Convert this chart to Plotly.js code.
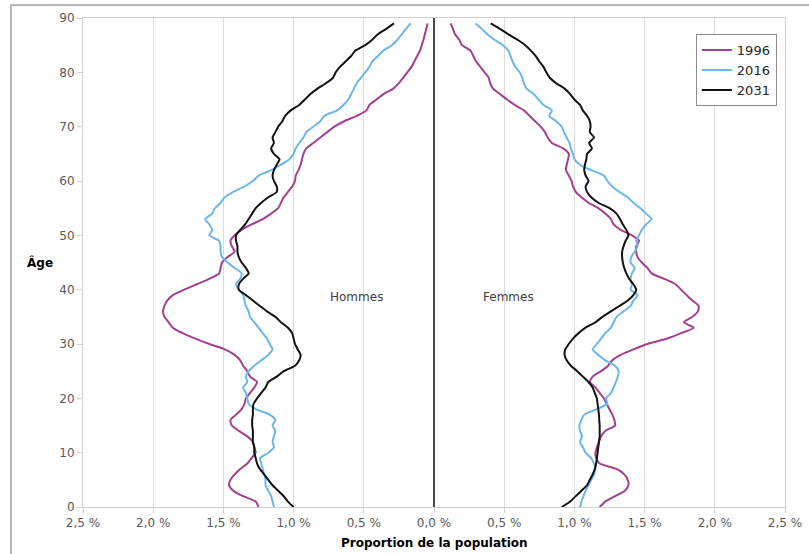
<!DOCTYPE html>
<html><head><meta charset="utf-8">
<script src="https://cdn.plot.ly/plotly-3.0.1.min.js"></script>
<style>html,body{margin:0;padding:0;background:#fff}#chart{width:809px;height:554px}</style>
</head><body><div id="chart"></div>
<script>
const ages = [0,1,2,3,4,5,6,7,8,9,10,11,12,13,14,15,16,17,18,19,20,21,22,23,24,25,26,27,28,29,30,31,32,33,34,35,36,37,38,39,40,41,42,43,44,45,46,47,48,49,50,51,52,53,54,55,56,57,58,59,60,61,62,63,64,65,66,67,68,69,70,71,72,73,74,75,76,77,78,79,80,81,82,83,84,85,86,87,88,89];

const years = ["1996", "2016", "2031"];

// Proportion de la population (%) — Hommes
const hommes1996 = [1.25,1.27,1.36,1.43,1.46,1.45,1.42,1.38,1.33,1.30,1.27,1.28,1.29,1.33,1.39,1.44,1.45,1.41,1.37,1.35,1.34,1.31,1.28,1.26,1.31,1.33,1.36,1.38,1.42,1.49,1.60,1.70,1.79,1.86,1.89,1.92,1.93,1.92,1.90,1.86,1.78,1.69,1.60,1.53,1.52,1.51,1.47,1.42,1.44,1.45,1.42,1.37,1.30,1.22,1.16,1.11,1.09,1.07,1.04,1.01,0.99,0.985,0.965,0.95,0.94,0.93,0.91,0.86,0.81,0.76,0.71,0.64,0.55,0.48,0.46,0.41,0.36,0.29,0.25,0.22,0.19,0.16,0.14,0.12,0.10,0.087,0.075,0.065,0.055,0.045];
const hommes2016 = [1.14,1.15,1.16,1.18,1.20,1.20,1.21,1.22,1.23,1.24,1.18,1.14,1.15,1.14,1.13,1.15,1.13,1.17,1.27,1.32,1.33,1.34,1.36,1.33,1.34,1.32,1.28,1.23,1.18,1.15,1.17,1.19,1.22,1.25,1.28,1.31,1.32,1.34,1.35,1.36,1.39,1.41,1.38,1.37,1.42,1.47,1.51,1.52,1.52,1.53,1.60,1.58,1.60,1.63,1.58,1.56,1.52,1.49,1.43,1.35,1.29,1.25,1.16,1.09,1.03,1.00,0.985,0.96,0.93,0.91,0.86,0.81,0.78,0.69,0.645,0.61,0.59,0.57,0.55,0.52,0.49,0.46,0.44,0.40,0.36,0.30,0.26,0.23,0.20,0.166];
const hommes2031 = [1.00,1.04,1.07,1.11,1.15,1.18,1.21,1.24,1.26,1.27,1.28,1.28,1.29,1.29,1.29,1.295,1.295,1.29,1.29,1.285,1.26,1.23,1.20,1.18,1.12,1.07,0.99,0.96,0.95,0.97,0.99,1.00,1.01,1.04,1.09,1.13,1.19,1.24,1.29,1.34,1.39,1.39,1.36,1.32,1.34,1.37,1.39,1.40,1.40,1.41,1.41,1.38,1.345,1.32,1.295,1.27,1.23,1.18,1.12,1.12,1.14,1.15,1.14,1.12,1.10,1.14,1.16,1.14,1.15,1.13,1.11,1.08,1.06,1.02,0.96,0.92,0.88,0.83,0.77,0.72,0.70,0.67,0.63,0.59,0.56,0.49,0.44,0.40,0.34,0.285];

// Proportion de la population (%) — Femmes
const femmes1996 = [1.18,1.22,1.29,1.36,1.385,1.38,1.355,1.30,1.18,1.155,1.15,1.16,1.175,1.19,1.22,1.29,1.285,1.27,1.25,1.23,1.21,1.18,1.15,1.11,1.13,1.19,1.24,1.27,1.33,1.42,1.52,1.66,1.76,1.85,1.78,1.84,1.88,1.885,1.84,1.80,1.76,1.72,1.64,1.55,1.52,1.48,1.45,1.44,1.44,1.46,1.41,1.33,1.28,1.26,1.22,1.17,1.10,1.05,1.01,0.99,0.98,0.96,0.94,0.945,0.955,0.96,0.92,0.84,0.81,0.79,0.76,0.72,0.68,0.64,0.575,0.52,0.47,0.42,0.40,0.39,0.36,0.33,0.30,0.28,0.26,0.20,0.18,0.15,0.135,0.119];
const femmes2016 = [1.04,1.05,1.065,1.08,1.10,1.12,1.14,1.15,1.14,1.12,1.08,1.06,1.04,1.055,1.04,1.035,1.05,1.07,1.16,1.235,1.225,1.26,1.28,1.295,1.31,1.315,1.29,1.22,1.17,1.13,1.16,1.19,1.22,1.26,1.28,1.30,1.35,1.40,1.42,1.45,1.40,1.41,1.40,1.41,1.43,1.40,1.405,1.43,1.45,1.44,1.46,1.48,1.51,1.55,1.51,1.47,1.42,1.38,1.32,1.27,1.235,1.21,1.12,1.04,1.00,0.99,0.975,0.965,0.945,0.925,0.91,0.87,0.82,0.84,0.78,0.745,0.71,0.66,0.64,0.63,0.61,0.58,0.56,0.545,0.53,0.49,0.43,0.38,0.34,0.297];
const femmes2031 = [0.91,0.97,1.01,1.05,1.09,1.11,1.13,1.145,1.155,1.16,1.165,1.17,1.175,1.18,1.18,1.18,1.177,1.175,1.17,1.165,1.16,1.145,1.13,1.10,1.06,1.02,0.975,0.945,0.93,0.935,0.96,0.99,1.03,1.08,1.15,1.20,1.26,1.32,1.38,1.42,1.44,1.42,1.39,1.37,1.355,1.345,1.34,1.34,1.35,1.365,1.385,1.37,1.345,1.325,1.30,1.25,1.17,1.12,1.09,1.08,1.10,1.08,1.07,1.075,1.085,1.09,1.125,1.105,1.14,1.11,1.115,1.11,1.09,1.06,1.04,1.00,0.97,0.93,0.87,0.825,0.80,0.78,0.75,0.725,0.69,0.65,0.595,0.53,0.47,0.404];

const xTickVals = [-2.5,-2,-1.5,-1,-0.5,0,0.5,1,1.5,2,2.5];
const xTickText = ["2,5 %","2,0 %","1,5 %","1,0 %","0,5 %","0,0 %","0,5 %","1,0 %","1,5 %","2,0 %","2,5 %"];
const yTickVals = [0,10,20,30,40,50,60,70,80,90];

const colors = ["#A3408E", "#6DB6EA", "#111111"];
const hommes = [hommes1996, hommes2016, hommes2031];
const femmes = [femmes1996, femmes2016, femmes2031];

const traces = [];
years.forEach((yr, i) => {
  traces.push({
    x: hommes[i].map(v => -v), y: ages, type: 'scatter', mode: 'lines',
    name: yr, legendgroup: yr, showlegend: true,
    line: {color: colors[i], width: 2, shape: 'spline', smoothing: 0.6}
  });
  traces.push({
    x: femmes[i], y: ages, type: 'scatter', mode: 'lines',
    name: yr, legendgroup: yr, showlegend: false,
    line: {color: colors[i], width: 2, shape: 'spline', smoothing: 0.6}
  });
});

const layout = {
  width: 809, height: 554,
  margin: {l: 83, r: 24, t: 18, b: 47, pad: 0},
  paper_bgcolor: '#ffffff', plot_bgcolor: '#ffffff',
  font: {family: 'DejaVu Sans, Verdana, sans-serif', size: 12, color: '#595959'},
  showlegend: true,
  legend: {
    x: 0.873, y: 0.967, xanchor: 'left', yanchor: 'top',
    bordercolor: '#8c8c8c', borderwidth: 1, bgcolor: '#ffffff',
    font: {size: 13, color: '#262626'}, itemwidth: 30, tracegroupgap: 0
  },
  xaxis: {
    range: [-2.5, 2.5], tickvals: xTickVals, ticktext: xTickText,
    showgrid: true, gridcolor: '#dcdcdc', gridwidth: 1,
    zeroline: true, zerolinecolor: '#4a4a4a', zerolinewidth: 1.6,
    showline: true, linecolor: '#d0d0d0', linewidth: 1, mirror: true,
    ticks: 'outside', ticklen: 5, tickcolor: '#d0d0d0',
    tickfont: {size: 12, color: '#595959'}, fixedrange: true
  },
  yaxis: {
    range: [0, 90], tickvals: yTickVals,
    showgrid: false, zeroline: false,
    showline: true, linecolor: '#d0d0d0', linewidth: 1, mirror: true,
    ticks: 'outside', ticklen: 5, tickcolor: '#d0d0d0',
    tickfont: {size: 12, color: '#595959'}, fixedrange: true
  },
  annotations: [
    {text: 'Hommes', x: -0.55, y: 38.65, xref: 'x', yref: 'y', showarrow: false,
     font: {size: 12, color: '#404040'}},
    {text: 'Femmes', x: 0.534, y: 38.65, xref: 'x', yref: 'y', showarrow: false,
     font: {size: 12, color: '#404040'}},
    {text: '<b>Âge</b>', x: -0.0613, y: 0.499, xref: 'paper', yref: 'paper', showarrow: false,
     xanchor: 'center', yanchor: 'middle', font: {size: 12, color: '#000000'}},
    {text: '<b>Proportion de la population</b>', x: 0.5, y: -0.0736, xref: 'paper', yref: 'paper',
     showarrow: false, xanchor: 'center', yanchor: 'middle', font: {size: 12, color: '#000000'}}
  ],
  shapes: [
    {type: 'rect', xref: 'paper', yref: 'paper', x0: -0.1026, x1: 1.04, y0: -0.11, y1: 1.0266,
     line: {color: '#a0a0a0', width: 1.5}, fillcolor: 'rgba(0,0,0,0)', layer: 'below'}
  ]
};

Plotly.newPlot('chart', traces, layout, {displayModeBar: false, staticPlot: true});
</script>
</body></html>
